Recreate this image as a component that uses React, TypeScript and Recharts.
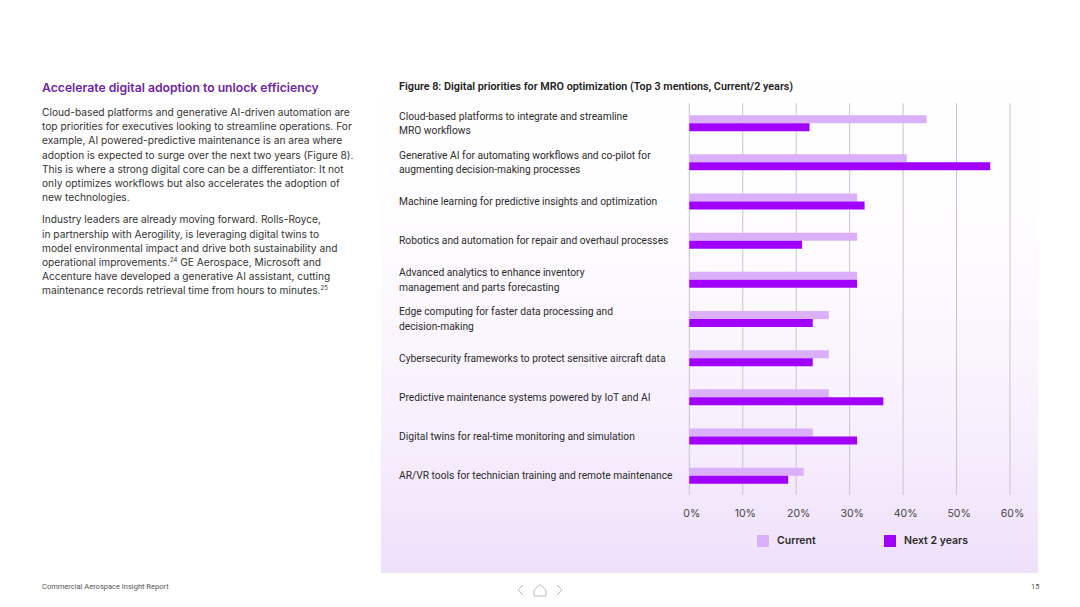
import React from 'react'
import {
  BarChart,
  Bar,
  XAxis,
  YAxis,
  CartesianGrid,
} from 'recharts'

const categories = [
  'Cloud-based platforms to integrate and streamline\nMRO workflows',
  'Generative AI for automating workflows and co-pilot for\naugmenting decision-making processes',
  'Machine learning for predictive insights and optimization',
  'Robotics and automation for repair and overhaul processes',
  'Advanced analytics to enhance inventory\nmanagement and parts forecasting',
  'Edge computing for faster data processing and\ndecision-making',
  'Cybersecurity frameworks to protect sensitive aircraft data',
  'Predictive maintenance systems powered by IoT and AI',
  'Digital twins for real-time monitoring and simulation',
  'AR/VR tools for technician training and remote maintenance',
]

const currentValues = [44.4, 40.7, 31.4, 31.4, 31.4, 26.1, 26.1, 26.1, 23.1, 21.4]
const nextTwoYearsValues = [22.5, 56.3, 32.8, 21.1, 31.4, 23.1, 23.1, 36.3, 31.4, 18.5]
const xTicks = [0, 10, 20, 30, 40, 50, 60]
const seriesNames = ['Current', 'Next 2 years']

const CURRENT_COLOR = '#dcaffb'
const NEXT_COLOR = '#a100ff'
const TEXT = '#2b2b2b'

const chartData = categories.map((label, i) => ({
  label,
  current: currentValues[i],
  next: nextTwoYearsValues[i],
}))

const FONT = 'Inter, "Noto Sans", sans-serif'
const LABEL_FONT = 'Roboto, "Noto Sans", sans-serif'

function CategoryTick({ y, payload }: any) {
  const lines = String(payload.value).split('\n')
  const lineH = 14.5
  const start = y - ((lines.length - 1) * lineH) / 2
  return (
    <text x={399} y={start} fontSize={10.25} fill={TEXT} fontFamily={LABEL_FONT} dominantBaseline="central">
      {lines.map((ln, i) => (
        <tspan key={i} x={399} y={start + i * lineH}>
          {ln}
        </tspan>
      ))}
    </text>
  )
}

function ChartLegend() {
  const colors = [CURRENT_COLOR, NEXT_COLOR]
  return (
    <div style={{ position: 'absolute', left: 757, top: 534, display: 'flex' }}>
      {seriesNames.map((name, i) => (
        <div key={name} style={{ width: 127, height: 13, display: 'flex', alignItems: 'center' }}>
          <span style={{ width: 12, height: 12, background: colors[i], display: 'inline-block', marginRight: 8 }} />
          <span style={{ fontSize: 10.5, fontWeight: 600, color: TEXT, fontFamily: FONT }}>{name}</span>
        </div>
      ))}
    </div>
  )
}

const para1 = [
  'Cloud-based platforms and generative AI-driven automation are',
  'top priorities for executives looking to streamline operations. For',
  'example, AI powered-predictive maintenance is an area where',
  'adoption is expected to surge over the next two years (Figure 8).',
  'This is where a strong digital core can be a differentiator: It not',
  'only optimizes workflows but also accelerates the adoption of',
  'new technologies.',
]

export default function App() {
  return (
    <div style={{ position: 'absolute', left: 0, top: 0, width: 1080, height: 607, background: '#fff', overflow: 'hidden', fontFamily: FONT }}>
      {/* panel behind the chart */}
      <div
        style={{
          position: 'absolute',
          left: 381,
          top: 70,
          width: 657,
          height: 503,
          background: 'linear-gradient(to bottom, #ffffff 0%, #fefcff 35%, #f8f0fd 70%, #efe0fa 100%)',
        }}
      />

      {/* left column */}
      <div style={{ position: 'absolute', left: 42, top: 80, fontSize: 12.2, fontWeight: 600, color: '#6f1fa8', whiteSpace: 'nowrap' }}>
        Accelerate digital adoption to unlock efficiency
      </div>
      <div style={{ position: 'absolute', left: 42, top: 105, fontSize: 10.2, lineHeight: '14.2px', color: '#333', whiteSpace: 'nowrap' }}>
        {para1.map((l, i) => (
          <div key={i}>{l}</div>
        ))}
        <div style={{ height: 8 }} />
        <div>Industry leaders are already moving forward. Rolls-Royce,</div>
        <div>in partnership with Aerogility, is leveraging digital twins to</div>
        <div>model environmental impact and drive both sustainability and</div>
        <div>
          operational improvements.<sup style={{ fontSize: 6, lineHeight: 0 }}>24</sup> GE Aerospace, Microsoft and
        </div>
        <div>Accenture have developed a generative AI assistant, cutting</div>
        <div>
          maintenance records retrieval time from hours to minutes.<sup style={{ fontSize: 6, lineHeight: 0 }}>25</sup>
        </div>
      </div>

      {/* chart title */}
      <div style={{ position: 'absolute', left: 399, top: 80, fontSize: 10.8, fontWeight: 600, color: '#222', whiteSpace: 'nowrap', fontFamily: LABEL_FONT }}>
        Figure 8: Digital priorities for MRO optimization (Top 3 mentions, Current/2 years)
      </div>

      <div style={{ position: 'absolute', left: 0, top: 0 }}>
        <BarChart
          width={1080}
          height={607}
          data={chartData}
          layout="vertical"
          margin={{ top: 103.2, right: 70, left: 389.3, bottom: 82.2 }}
          barGap={0}
          barSize={8}
        >
          <CartesianGrid horizontal={false} stroke="#c9c4cc" strokeWidth={1} />
          <XAxis
            type="number"
            domain={[0, 60]}
            ticks={xTicks}
            tickFormatter={(v) => `${v}%`}
            axisLine={false}
            tickLine={false}
            tickMargin={9}
            height={30}
            tick={{ fill: '#444', fontSize: 10.5, fontFamily: FONT, dx: 2.5 }}
          />
          <YAxis
            type="category"
            dataKey="label"
            width={300}
            axisLine={false}
            tickLine={false}
            tick={<CategoryTick />}
            interval={0}
          />
          <Bar dataKey="current" name={seriesNames[0]} fill={CURRENT_COLOR} isAnimationActive={false} />
          <Bar dataKey="next" name={seriesNames[1]} fill={NEXT_COLOR} isAnimationActive={false} />
        </BarChart>
      </div>

      <ChartLegend />

      {/* footer */}
      <div style={{ position: 'absolute', left: 42, top: 582, fontSize: 7.5, color: '#555', fontFamily: LABEL_FONT }}>
        Commercial Aerospace Insight Report
      </div>
      <div style={{ position: 'absolute', left: 1031, top: 582, fontSize: 7.5, color: '#555', fontFamily: LABEL_FONT }}>15</div>
      <svg style={{ position: 'absolute', left: 514, top: 582 }} width={52} height={16}>
        <polyline points="9,3 4,8 9,13" fill="none" stroke="#bbb" strokeWidth={1} />
        <path d="M20,8 L26,2.5 L32,8 L32,14 L20,14 Z" fill="none" stroke="#bbb" strokeWidth={1} />
        <polyline points="43,3 48,8 43,13" fill="none" stroke="#bbb" strokeWidth={1} />
      </svg>
    </div>
  )
}
